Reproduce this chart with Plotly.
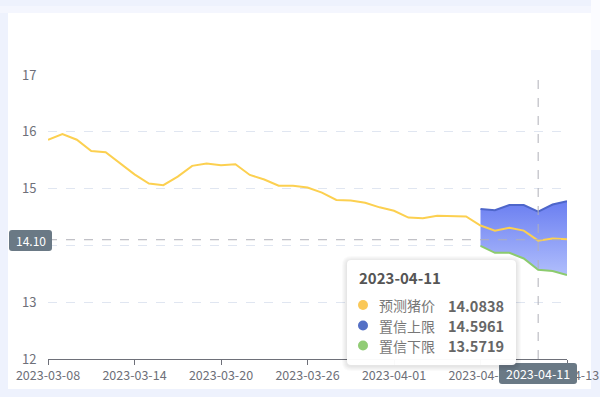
import plotly.graph_objects as go
from datetime import date, timedelta

# ---------------- data ----------------
start_day = date(2023, 3, 8)
dates = [(start_day + timedelta(days=i)).isoformat() for i in range(37)]

price = [15.86, 15.96, 15.86, 15.66, 15.64, 15.45, 15.25, 15.09, 15.06, 15.21,
         15.40, 15.44, 15.41, 15.43, 15.24, 15.16, 15.05, 15.05, 15.02, 14.93,
         14.80, 14.79, 14.75, 14.67, 14.61, 14.49, 14.48, 14.52, 14.51, 14.51,
         14.35, 14.26, 14.31, 14.26, 14.0838, 14.12, 14.11]
upper = [None] * 30 + [14.64, 14.62, 14.71, 14.71, 14.5961, 14.72, 14.78]
lower = [None] * 30 + [13.99, 13.87, 13.87, 13.77, 13.5719, 13.55, 13.48]

series_names = ["预测猪价", "置信上限", "置信下限"]
y_ticks = [12, 13, 14, 15, 16, 17]
x_tick_vals = dates[::6]
hover_index = 34
cursor_y = 14.10

# ---------------- style ----------------
C_PRICE = "#fcd050"
C_PRICE_DOT = "#fac858"
C_UP = "#4e66ca"
C_UP_DOT = "#5470c6"
C_LOW = "#8ccb6e"
C_LOW_DOT = "#91cc75"
AXIS = "#6e7079"
PTR_BG = "#6a7985"
FONT = "Noto Sans CJK SC"

W, H = 600, 397
L, R, T, B = 48, 567, 75, 359


def px(x):
    return (x - L) / (R - L)


def py(y):
    return (B - y) / (B - T)


def rrect(x0, y0, x1, y1, r):
    rx, ry = r / (R - L), r / (B - T)
    X0, X1, YT, YB = px(x0), px(x1), py(y0), py(y1)
    return (f"M {X0+rx},{YT} L {X1-rx},{YT} Q {X1},{YT} {X1},{YT-ry} "
            f"L {X1},{YB+ry} Q {X1},{YB} {X1-rx},{YB} L {X0+rx},{YB} "
            f"Q {X0},{YB} {X0},{YB+ry} L {X0},{YT-ry} Q {X0},{YT} {X0+rx},{YT} Z")


fig = go.Figure()

band_vals = [v for v in upper + lower if v is not None]
fig.add_trace(go.Scatter(x=dates, y=lower, mode="lines", name=series_names[2],
                         line=dict(color=C_LOW, width=2)))
fig.add_trace(go.Scatter(x=dates, y=upper, mode="lines", name=series_names[1],
                         line=dict(color=C_UP, width=2), fill="tonexty",
                         fillgradient=dict(type="vertical",
                                           start=min(band_vals), stop=max(band_vals),
                                           colorscale=[[0, "#b0befc"], [1, "#6a7ef1"]])))
fig.add_trace(go.Scatter(x=dates, y=price, mode="lines", name=series_names[0],
                         line=dict(color=C_PRICE, width=2)))

shapes = []
# page frame
shapes.append(dict(type="rect", xref="paper", yref="paper", layer="below",
                   x0=px(8), x1=px(591), y0=py(389), y1=py(13),
                   fillcolor="white", line=dict(width=0)))
shapes.append(dict(type="rect", xref="paper", yref="paper", layer="below",
                   x0=px(0), x1=px(600), y0=py(13), y1=py(6),
                   fillcolor="#f4f6fe", line=dict(width=0)))
shapes.append(dict(type="rect", xref="paper", yref="paper", layer="below",
                   x0=px(591), x1=px(600), y0=py(50), y1=py(0),
                   fillcolor="#fbfcff", line=dict(width=0)))

# crosshair
shapes.append(dict(type="line", xref="x", yref="paper", layer="above",
                   x0=dates[hover_index], x1=dates[hover_index], y0=0, y1=1,
                   line=dict(color="#b0b0b8", width=1, dash="dash")))
shapes.append(dict(type="line", xref="paper", yref="y", layer="above",
                   x0=0, x1=1, y0=cursor_y, y1=cursor_y,
                   line=dict(color="#b0b0b8", width=1, dash="dash")))

# pointer labels
shapes.append(dict(type="path", xref="paper", yref="paper", layer="above",
                   path=rrect(9, 230, 52, 251, 3), fillcolor=PTR_BG, line=dict(width=0)))
shapes.append(dict(type="path", xref="paper", yref="paper", layer="above",
                   path=rrect(499, 363, 577, 384, 3), fillcolor=PTR_BG, line=dict(width=0)))

# tooltip shadow + box
for k in range(5, 0, -1):
    shapes.append(dict(type="path", xref="paper", yref="paper", layer="above",
                       path=rrect(347 - k, 260 - k + 1, 516 + k, 365 + k + 1, 4 + k),
                       fillcolor="rgba(0,0,0,0.018)", line=dict(width=0)))
shapes.append(dict(type="path", xref="paper", yref="paper", layer="above",
                   path=rrect(347, 260, 516, 365, 4),
                   fillcolor="rgba(255,255,255,0.97)", line=dict(width=0)))

rows_y = [305, 325.5, 345.5]
dot_cols = [C_PRICE_DOT, C_UP_DOT, C_LOW_DOT]
row_vals = [price[hover_index], upper[hover_index], lower[hover_index]]
for yy, col in zip(rows_y, dot_cols):
    shapes.append(dict(type="circle", xref="paper", yref="paper", layer="above",
                       x0=px(358), x1=px(368), y0=py(yy + 5), y1=py(yy - 5),
                       fillcolor=col, line=dict(width=0)))

ann = []
ann.append(dict(xref="paper", yref="paper", x=px(30.5), y=py(240.5), text=f"{cursor_y:.2f}",
                showarrow=False, xanchor="center", yanchor="middle",
                font=dict(family=FONT, size=12, color="white")))
ann.append(dict(xref="paper", yref="paper", x=px(538), y=py(373.5), text=dates[hover_index],
                showarrow=False, xanchor="center", yanchor="middle",
                font=dict(family=FONT, size=12.5, color="white")))
ann.append(dict(xref="paper", yref="paper", x=px(357), y=py(277), text=f"<b>{dates[hover_index]}</b>",
                showarrow=False, xanchor="left", yanchor="middle",
                font=dict(family=FONT, size=15, color="#555555")))
for yy, nm, v in zip(rows_y, series_names, row_vals):
    ann.append(dict(xref="paper", yref="paper", x=px(377), y=py(yy), text=nm,
                    showarrow=False, xanchor="left", yanchor="middle",
                    font=dict(family=FONT, size=14, color="#777777")))
    ann.append(dict(xref="paper", yref="paper", x=px(506), y=py(yy), text=f"<b>{v:.4f}</b>",
                    showarrow=False, xanchor="right", yanchor="middle",
                    font=dict(family=FONT, size=14.5, color="#666666")))

fig.update_layout(
    width=W, height=H, autosize=False,
    margin=dict(l=L, r=W - R, t=T, b=H - B, autoexpand=False),
    paper_bgcolor="#eef2fd", plot_bgcolor="rgba(0,0,0,0)",
    showlegend=False, hovermode=False,
    shapes=shapes, annotations=ann,
    font=dict(family=FONT, size=12, color=AXIS),
)
fig.update_xaxes(type="date", range=[dates[0], dates[-1]], automargin=False,
                 tickvals=x_tick_vals, ticktext=x_tick_vals,
                 showgrid=False, zeroline=False,
                 showline=True, linecolor=AXIS, linewidth=1,
                 ticks="outside", ticklen=5, tickcolor=AXIS,
                 tickfont=dict(family=FONT, size=12.5, color=AXIS))
fig.update_yaxes(range=[12, 17], tickvals=y_ticks, automargin=False,
                 showgrid=True, gridcolor="#e0e6f1", griddash="dash", gridwidth=1,
                 zeroline=False, showline=False,
                 ticks="outside", ticklen=8, tickcolor="rgba(0,0,0,0)",
                 tickfont=dict(family=FONT, size=13, color=AXIS))

fig.write_html("out.html", config={"displayModeBar": False, "responsive": False},
               post_script="document.body.style.margin='0';document.body.style.background='#eef2fd';")
